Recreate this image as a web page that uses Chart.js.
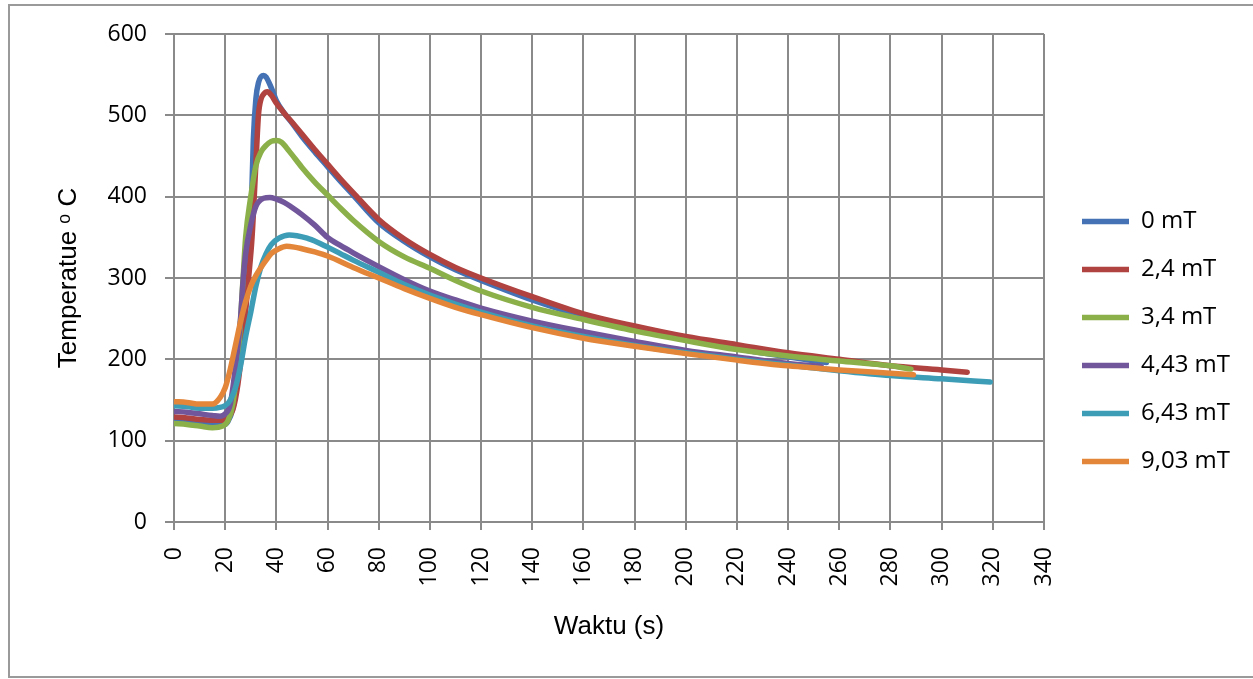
<!DOCTYPE html>
<html>
<head>
<meta charset="utf-8">
<title>Temperatur vs Waktu</title>
<script src="https://cdn.jsdelivr.net/npm/chart.js@4.4.1/dist/chart.umd.min.js"></script>
<style>
    html, body { margin: 0; padding: 0; background: #ffffff; overflow: hidden; }
    #chart-wrap { position: relative; width: 1253px; height: 679px; }
</style>
</head>
<body>
<div id="chart-wrap"><canvas id="temp-chart"></canvas></div>
<script>
// series labels (legend order)
const seriesLabels = ['0 mT', '2,4 mT', '3,4 mT', '4,43 mT', '6,43 mT', '9,03 mT'];
const seriesColors = ['#4472b4', '#b0423f', '#8bb04a', '#72569b', '#3d9cb6', '#e3863a'];

// 0 mT
const time0 = [0, 5, 10, 15, 19, 21, 23, 25, 27, 29, 30, 31, 32, 33, 35, 36, 38, 40, 43, 46, 50, 55, 60, 65, 70, 80, 90, 100, 110, 120, 140, 160, 180, 200, 220, 240, 255];
const temp0 = [125, 124, 122, 120, 119, 123, 140, 180, 235, 305, 360, 470, 520, 540, 549, 547, 534, 518, 503, 491, 474, 455, 437, 419, 402, 368, 345, 326, 310, 297, 273, 253, 238, 225, 213, 203, 196];

// 2,4 mT
const time24 = [0, 5, 10, 15, 19, 21, 23, 25, 27, 29, 30.5, 32, 33, 34, 35, 36.5, 38, 40, 43, 46, 50, 55, 60, 65, 70, 80, 90, 100, 110, 120, 140, 160, 180, 200, 220, 240, 260, 280, 300, 310];
const temp24 = [129, 128, 126, 125, 125, 128, 138, 170, 225, 295, 350, 440, 500, 520, 526, 529, 525, 515, 503, 492, 477, 458, 440, 422, 405, 372, 348, 329, 313, 300, 277, 256, 241, 228, 218, 208, 200, 192, 187, 184];

// 3,4 mT
const time34 = [0, 5, 10, 15, 19, 21, 23, 25, 27, 28, 30, 32, 34, 36, 38, 40, 42, 45, 50, 55, 60, 65, 70, 80, 90, 100, 110, 120, 140, 160, 180, 200, 220, 240, 260, 280, 288];
const temp34 = [121, 120, 118, 116, 118, 124, 145, 200, 300, 350, 400, 438, 455, 463, 468, 469, 467, 456, 436, 418, 402, 386, 371, 345, 326, 312, 297, 284, 264, 249, 235, 223, 212, 204, 198, 192, 188];

// 4,43 mT
const time443 = [0, 5, 10, 15, 18, 20, 22, 24, 26, 27, 28, 30, 32, 35, 37.5, 40, 43, 46, 50, 55, 60, 65, 70, 80, 90, 100, 110, 120, 140, 160, 180, 200, 220, 240, 253];
const temp443 = [136, 135, 133, 131, 130, 133, 145, 190, 250, 297, 330, 365, 388, 398, 399, 397, 393, 387, 378, 365, 350, 340, 331, 314, 298, 284, 273, 263, 247, 234, 222, 211, 203, 195, 191];

// 6,43 mT
const time643 = [0, 5, 10, 15, 20, 22, 24, 26, 28, 30, 32, 34, 36, 38, 41, 45, 48, 52, 56, 60, 65, 70, 80, 90, 100, 110, 120, 140, 160, 180, 200, 220, 240, 260, 280, 300, 319];
const temp643 = [143, 142, 140, 140, 143, 150, 165, 192, 228, 258, 290, 314, 330, 341, 349, 353, 352, 349, 344, 338, 330, 322, 307, 292, 279, 268, 258, 241, 228, 217, 208, 200, 193, 186, 180, 176, 172];

// 9,03 mT
const time903 = [0, 5, 10, 15, 18, 20, 22, 24, 26, 28, 30, 32, 34, 36, 38, 41, 44, 47, 50, 55, 60, 70, 80, 90, 100, 110, 120, 140, 160, 180, 200, 220, 240, 260, 280, 289];
const temp903 = [148, 147, 145, 145, 153, 165, 188, 217, 246, 271, 290, 303, 313, 322, 330, 336, 339, 338, 336, 332, 327, 313, 300, 287, 275, 264, 255, 239, 226, 216, 207, 199, 192, 187, 183, 181];

const seriesTimes = [time0, time24, time34, time443, time643, time903];
const seriesTemps = [temp0, temp24, temp34, temp443, temp643, temp903];

// axis ticks
const xTickMin = 0, xTickMax = 340, xTickStep = 20;
const yTickMin = 0, yTickMax = 600, yTickStep = 100;

const gridColor = '#8a8a8a';

function buildDatasets() {
    return seriesLabels.map((label, i) => ({
        label: label,
        data: seriesTimes[i].map((t, j) => ({ x: t, y: seriesTemps[i][j] })),
        borderColor: seriesColors[i],
        backgroundColor: seriesColors[i],
        borderWidth: 5.5,
        borderCapStyle: 'round',
        borderJoinStyle: 'round',
        pointRadius: 0,
        pointHoverRadius: 0,
        pointStyle: 'line',
        cubicInterpolationMode: 'monotone',
        fill: false,
        order: seriesLabels.length - i   // later series drawn on top, like the excel original
    }));
}

// grey frame round the whole chart
const frameBorder = {
    id: 'frameBorder',
    beforeDraw(chart) {
        const ctx = chart.ctx;
        ctx.save();
        ctx.strokeStyle = '#9a9a9a';
        ctx.lineWidth = 2;
        ctx.beginPath();
        ctx.moveTo(chart.width, 5);
        ctx.lineTo(9, 5);
        ctx.lineTo(9, 677);
        ctx.lineTo(chart.width, 677);
        ctx.stroke();
        ctx.restore();
    }
};

// keep legend box a fixed width and indent its items
const legendPlace = {
    id: 'legendPlace',
    beforeLayout(chart) {
        const legend = chart.legend;
        if (!legend || legend._fixedFit) return;
        const fit = legend.fit;
        legend.fit = function () {
            fit.call(this);
            this.width = 209;
        };
        legend._fixedFit = true;
    },
    afterLayout(chart) {
        if (!chart.legend) return;
        chart.legend.left += 14;
        chart.legend.right += 14;
    }
};

function initializeChart() {
    const ctx = document.getElementById('temp-chart').getContext('2d');
    Chart.defaults.font.family = "'Open Sans', 'Noto Sans', sans-serif";
    Chart.defaults.color = '#000000';

    const config = {
        type: 'line',
        data: { datasets: buildDatasets() },
        options: {
            responsive: true,
            maintainAspectRatio: false,
            animation: false,
            layout: {
                padding: { top: 34, right: 0, bottom: 30, left: 0 }
            },
            scales: {
                x: {
                    type: 'linear',
                    min: xTickMin,
                    max: xTickMax,
                    afterFit: (scale) => { scale.height = 127; },
                    ticks: {
                        stepSize: xTickStep,
                        autoSkip: false,
                        maxRotation: 90,
                        minRotation: 90,
                        padding: 17,
                        color: '#000000',
                        font: { size: 23 }
                    },
                    grid: {
                        color: gridColor,
                        lineWidth: 2,
                        tickLength: 8,
                        tickColor: gridColor
                    },
                    border: { color: gridColor, width: 2 },
                    title: {
                        display: true,
                        text: 'Waktu (s)',
                        color: '#000000',
                        font: { family: "'Liberation Sans', Arial, sans-serif", size: 26 },
                        padding: { top: 0, bottom: 7 }
                    }
                },
                y: {
                    min: yTickMin,
                    max: yTickMax,
                    afterFit: (scale) => { scale.width = 174; },
                    ticks: {
                        stepSize: yTickStep,
                        padding: 18,
                        color: '#000000',
                        font: { size: 23 }
                    },
                    grid: {
                        color: gridColor,
                        lineWidth: 2,
                        tickLength: 9,
                        tickColor: gridColor
                    },
                    border: { color: gridColor, width: 2 },
                    title: {
                        display: true,
                        text: 'Temperatue \u1d52 C',
                        color: '#000000',
                        font: { family: "'Liberation Sans', Arial, 'DejaVu Sans', sans-serif", size: 26 },
                        padding: { top: 53, bottom: 0 }
                    }
                }
            },
            plugins: {
                legend: {
                    display: true,
                    position: 'right',
                    labels: {
                        usePointStyle: true,
                        pointStyleWidth: 47,
                        boxHeight: 24,
                        padding: 24,
                        color: '#000000',
                        font: { size: 24 },
                        sort: (a, b) => a.datasetIndex - b.datasetIndex
                    }
                },
                tooltip: { enabled: false }
            }
        },
        plugins: [frameBorder, legendPlace]
    };

    return new Chart(ctx, config);
}

const tempChart = initializeChart();
</script>
</body>
</html>
